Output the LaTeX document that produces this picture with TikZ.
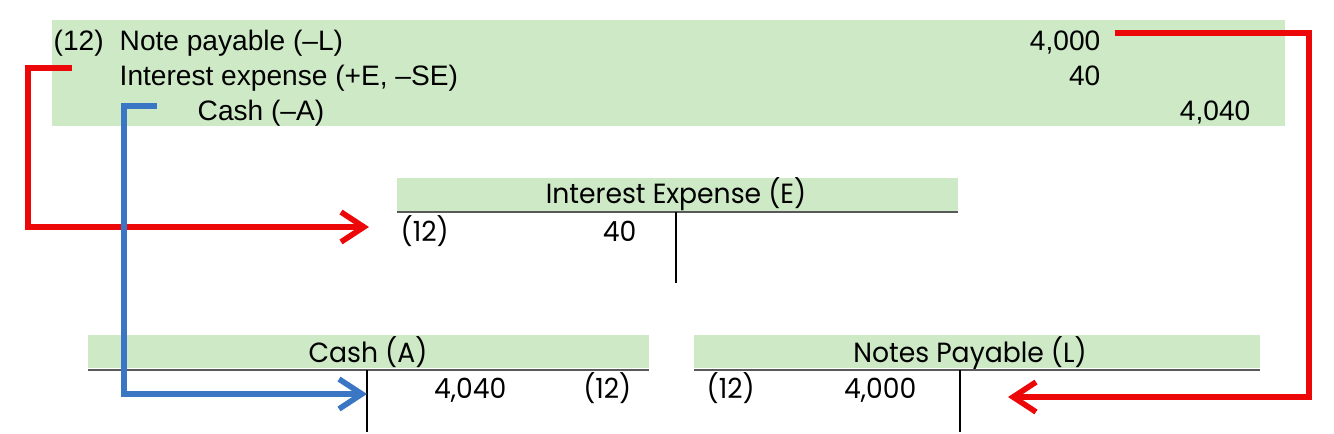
\documentclass[tikz,border=0pt]{standalone}
\usepackage{fontspec}
\setmainfont{Liberation Sans}
\newfontfamily\tacctfont[FakeStretch=0.96]{Poppins}
\usetikzlibrary{arrows.meta}

\definecolor{entrygreen}{RGB}{205,233,197}
\definecolor{flowred}{RGB}{236,8,8}
\definecolor{flowblue}{RGB}{58,118,196}

\begin{document}
\begin{tikzpicture}[x=0.02cm, y=-0.02cm, thick,
	jtext/.style={inner sep=0pt, anchor=base west, font=\fontsize{16}{19}\selectfont},
	jnum/.style={inner sep=0pt, anchor=base east, font=\fontsize{16}{19}\selectfont},
	ttitle/.style={inner sep=0pt, anchor=base, font=\tacctfont\fontsize{15.8}{19}\selectfont},
	tleft/.style={inner sep=0pt, anchor=base west, font=\tacctfont\fontsize{15.8}{19}\selectfont},
	tright/.style={inner sep=0pt, anchor=base east, font=\tacctfont\fontsize{15.8}{19}\selectfont},
	tbar/.style={draw=black!65, line width=1.2pt},
	tstem/.style={draw=black, line width=0.6pt},
	red flow/.style={draw=flowred, line width=3.2pt, -{Straight Barb[length=13pt, width=17pt, line width=3.2pt]}},
	blue flow/.style={draw=flowblue, line width=3.2pt, -{Straight Barb[length=13pt, width=17pt, line width=3.2pt]}}]
	\useasboundingbox (0,0) rectangle (1334,433);

	% journal entry
	\fill[entrygreen] (52,20) rectangle (1285,126);
	\node[jtext] (ref) at (53,50) {(12)};
	\node[jtext] (np) at (119,50) {Note payable (--L)};
	\node[jtext] (ie) at (119,85) {Interest expense (+E, --SE)};
	\node[jtext] (cash) at (197,120) {Cash (--A)};
	\node[jnum] (npdr) at (1101,50) {4,000};
	\node[jnum] (iedr) at (1101,85) {40};
	\node[jnum] (cashcr) at (1251,120) {4,040};

	% Interest Expense T-account
	\fill[entrygreen] (397,178) rectangle (958,211);
	\node[ttitle] (ieT) at (676,203) {Interest Expense (E)};
	\draw[tbar] (397,212) -- (958,212);
	\draw[tstem] (676,212) -- (676,283);
	\node[tleft] (ieRef) at (400,241) {(12)};
	\node[tright] (ieAmt) at (637,241) {40};

	% Cash T-account
	\fill[entrygreen] (88,335) rectangle (649,368);
	\node[ttitle] (cashT) at (368,362) {Cash (A)};
	\draw[tbar] (88,370) -- (649,370);
	\draw[tstem] (367,370) -- (367,432);
	\node[tright] (cashAmt) at (507,398) {4,040};
	\node[tright] (cashRef) at (632,398) {(12)};

	% Notes Payable T-account
	\fill[entrygreen] (694,335) rectangle (1260,368);
	\node[ttitle] (npT) at (970,362) {Notes Payable (L)};
	\draw[tbar] (694,370) -- (1260,370);
	\draw[tstem] (960,370) -- (960,432);
	\node[tleft] (npRef) at (706,398) {(12)};
	\node[tright] (npAmt) at (917,398) {4,000};

	% posting arrows
	\coordinate (ieFrom) at (72,68);
	\coordinate (ieTo) at (369,227);
	\coordinate (cashFrom) at (157,106);
	\coordinate (cashTo) at (367,394);
	\coordinate (npFrom) at (1115,33);
	\coordinate (npTo) at (1008,397);

	\draw[red flow] (ieFrom) -- ++(-44,0) |- (ieTo);
	\draw[blue flow] (cashFrom) -- ++(-33,0) |- (cashTo);
	\draw[red flow] (npFrom) -- ++(194,0) |- (npTo);
\end{tikzpicture}
\end{document}
